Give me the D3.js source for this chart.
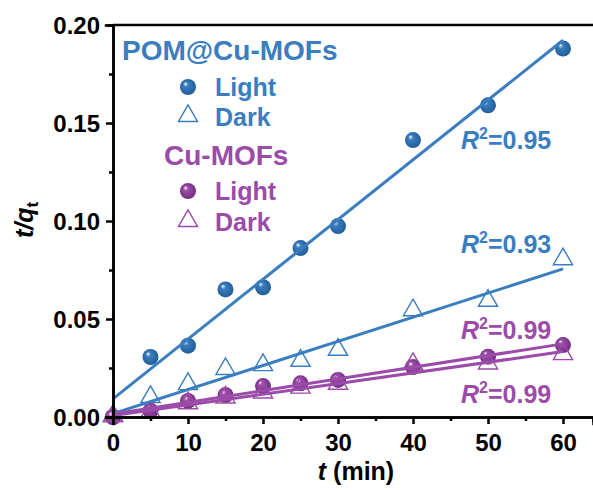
<!DOCTYPE html>
<html>
<head>
<meta charset="utf-8">
<script src="https://cdn.jsdelivr.net/npm/d3@7"></script>
<style>
  body { margin: 0; background: #fff; }
  svg { display: block; font-family: "Liberation Sans", Arial, sans-serif; font-weight: bold; }
</style>
</head>
<body>
<div class="visualization"></div>
<script>
const canvaswidth = 593;
const canvasheight = 490;
const margin = { left: 113, right: 0, top: 25, bottom: 73 };

const blue = "#3a7ec0";
const purple = "#9b4ba8";

// time (min)
const times = [0, 5, 10, 15, 20, 25, 30, 40, 50, 60];
// t/qt values
const pomLight = [0, 0.0306, 0.0364, 0.0651, 0.0662, 0.0862, 0.0974, 0.1413, 0.159, 0.188];
const pomDark = [0, 0.0097, 0.0163, 0.0240, 0.0260, 0.0282, 0.0338, 0.0540, 0.0588, 0.0800];
const cuLight = [0, 0.0032, 0.0082, 0.0112, 0.0158, 0.0172, 0.0189, 0.0255, 0.0308, 0.0367];
const cuDark = [0, 0.0020, 0.0065, 0.0095, 0.0120, 0.0145, 0.0165, 0.0265, 0.0268, 0.0316];

const xTicks = [0, 10, 20, 30, 40, 50, 60];
const yTicks = [0, 0.05, 0.10, 0.15, 0.20];
const r2Labels = ["0.95", "0.93", "0.99", "0.99"];

var svg = d3.select(".visualization").
append("svg").
attr("width", canvaswidth).
attr("height", canvasheight);

var x = d3.scaleLinear().domain([0, 64]).range([margin.left, canvaswidth - margin.right]);
var y = d3.scaleLinear().domain([0, 0.2]).range([canvasheight - margin.bottom, margin.top]);

var defs = svg.append("defs");
[["gBlue", blue, "#1f5a94"], ["gPurple", purple, "#6e2d7c"]].forEach(function (g) {
  var grad = defs.append("radialGradient").
  attr("id", g[0]).
  attr("cx", "50%").attr("cy", "50%").attr("r", "55%").
  attr("fx", "32%").attr("fy", "28%");
  grad.append("stop").attr("offset", "0%").attr("stop-color", "#ffffff");
  grad.append("stop").attr("offset", "28%").attr("stop-color", g[1]);
  grad.append("stop").attr("offset", "100%").attr("stop-color", g[2]);
});

function fit(xs, ys) {
  var mx = d3.mean(xs), my = d3.mean(ys);
  var sxy = d3.sum(xs, (d, i) => (d - mx) * (ys[i] - my));
  var sxx = d3.sum(xs, d => (d - mx) * (d - mx));
  var b = sxy / sxx;
  return { slope: b, intercept: my - b * mx };
}

var triangle = d3.symbol().type(d3.symbolTriangle).size(160);

function drawSeries(vals, color, kind) {
  var g = svg.append("g");
  if (kind === "sphere") {
    g.selectAll("circle").
    data(vals).
    enter().
    append("circle").
    attr("cx", (d, i) => x(times[i])).
    attr("cy", d => y(d)).
    attr("r", 8).
    attr("fill", color === blue ? "url(#gBlue)" : "url(#gPurple)");
  } else {
    g.selectAll("path").
    data(vals).
    enter().
    append("path").
    attr("d", triangle).
    attr("transform", (d, i) => "translate(" + x(times[i]) + "," + (y(d) - 1) + ")").
    attr("fill", "none").
    attr("stroke", color).
    attr("stroke-width", 1.4);
  }
}

function drawFit(vals, color) {
  var f = fit(times, vals);
  svg.append("line").
  attr("x1", x(0)).
  attr("y1", y(f.intercept)).
  attr("x2", x(60)).
  attr("y2", y(f.intercept + f.slope * 60)).
  attr("stroke", color).
  attr("stroke-width", 3);
}

drawSeries(pomLight, blue, "sphere");
drawSeries(pomDark, blue, "triangle");
drawSeries(cuLight, purple, "sphere");
drawSeries(cuDark, purple, "triangle");

drawFit(pomLight, blue);
drawFit(pomDark, blue);
drawFit(cuLight, purple);
drawFit(cuDark, purple);

// axes
var xaxis = d3.axisBottom(x).tickValues(xTicks).tickSize(7).tickFormat(d3.format("d"));
var xminor = d3.axisBottom(x).tickValues([5, 15, 25, 35, 45, 55]).tickSize(4).tickFormat("");
var yaxis = d3.axisLeft(y).tickValues(yTicks).tickSize(7).tickFormat(d3.format(".2f"));
var yminor = d3.axisLeft(y).tickValues([0.025, 0.075, 0.125, 0.175]).tickSize(4).tickFormat("");

function styleAxis(sel) {
  sel.selectAll("path, line").attr("stroke", "#000").attr("stroke-width", 2.5);
  sel.selectAll("text").
  attr("fill", "#000").
  style("font-size", "24px").
  style("font-weight", "bold").
  style("font-family", "'Liberation Sans', Arial, sans-serif");
}

svg.append("g").
attr("transform", "translate(0," + y(0) + ")").
call(xminor).
call(styleAxis);

svg.append("g").
attr("id", "x-axis").
attr("transform", "translate(0," + y(0) + ")").
call(xaxis).
call(styleAxis).
selectAll("text").attr("y", 34).attr("dy", 0);

svg.append("g").
attr("transform", "translate(" + x(0) + ",0)").
call(yminor).
call(styleAxis);

svg.append("g").
attr("id", "y-axis").
attr("transform", "translate(" + x(0) + ",0)").
call(yaxis).
call(styleAxis).
selectAll("text").attr("x", -13).attr("dy", "0.36em");

svg.selectAll(".domain").attr("stroke-linecap", "square");

svg.append("line").
attr("x1", x(0)).
attr("x2", canvaswidth).
attr("y1", y(0.2)).
attr("y2", y(0.2)).
attr("stroke", "#000").
attr("stroke-width", 2.5);

// axis labels
var xl = svg.append("text").
attr("x", 356).
attr("y", 480).
attr("text-anchor", "middle").
style("font-size", "25px");
xl.append("tspan").style("font-style", "italic").text("t");
xl.append("tspan").text(" (min)");

var yl = svg.append("text").
attr("transform", "translate(33,220) rotate(-90)").
attr("text-anchor", "middle").
style("font-size", "25px");
yl.append("tspan").style("font-style", "italic").text("t/q");
yl.append("tspan").attr("dy", 5).style("font-size", "17px").text("t");

// legend
function legendTitle(txt, color, lx, ly) {
  svg.append("text").attr("x", lx).attr("y", ly).attr("fill", color).
  style("font-size", "28px").text(txt);
}

function legendItem(kind, color, ly, label) {
  if (kind === "sphere") {
    svg.append("circle").attr("cx", 188).attr("cy", ly).attr("r", 8).
    attr("fill", color === blue ? "url(#gBlue)" : "url(#gPurple)");
  } else {
    svg.append("path").attr("d", triangle).
    attr("transform", "translate(188," + (ly - 1) + ")").
    attr("fill", "none").attr("stroke", color).attr("stroke-width", 1.4);
  }
  svg.append("text").attr("x", 215).attr("y", ly + 8.5).attr("fill", color).
  style("font-size", "25px").text(label);
}

legendTitle("POM@Cu-MOFs", blue, 122, 60);
legendItem("sphere", blue, 87, "Light");
legendItem("triangle", blue, 117, "Dark");
legendTitle("Cu-MOFs", purple, 164, 165);
legendItem("sphere", purple, 191, "Light");
legendItem("triangle", purple, 222, "Dark");

// R^2 labels
function r2(val, color, lx, ly) {
  var t = svg.append("text").attr("x", lx).attr("y", ly).attr("fill", color).
  style("font-size", "25px");
  t.append("tspan").style("font-style", "italic").text("R");
  t.append("tspan").attr("dy", -10).style("font-size", "16px").text("2");
  t.append("tspan").attr("dy", 10).text("=" + val);
}

r2(r2Labels[0], blue, 461, 149);
r2(r2Labels[1], blue, 461, 253);
r2(r2Labels[2], purple, 461, 339);
r2(r2Labels[3], purple, 461, 403);
</script>
</body>
</html>
